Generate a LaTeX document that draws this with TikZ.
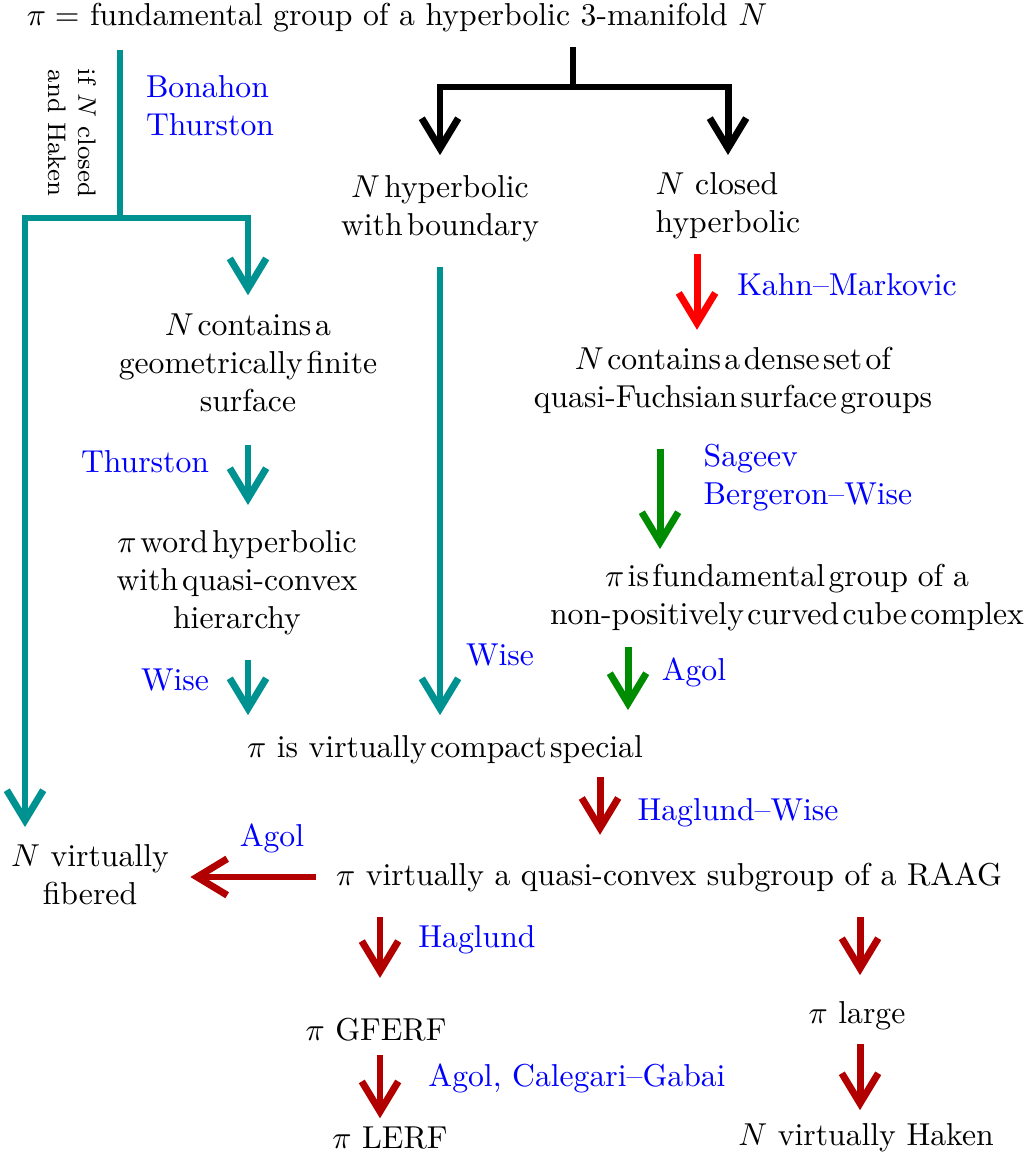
\documentclass[tikz,border=0pt]{standalone}
\usepackage{amsmath}
\usepackage{amssymb}
\usetikzlibrary{arrows.meta}
\definecolor{tealline}{RGB}{0,145,145}
\definecolor{darkred}{RGB}{178,0,0}
\definecolor{darkgreen}{RGB}{0,140,0}
\tikzset{arr/.style = {line width=2.2pt, -{Straight Barb[length=9.5pt,width=11.5pt,sharp]}}}
\tikzset{bar/.style = {line width=2.2pt}}
\tikzset{txt/.style = {align=center, inner sep=0pt}}
\tikzset{tight/.style = {execute at begin node={\spaceskip=#1\relax}}}
\tikzset{who/.style = {text=blue, align=left, inner sep=0pt}}

\begin{document}
\begin{tikzpicture}[x=0.3155pt, y=-0.3155pt]
      \useasboundingbox (0,0) rectangle (1026,1154);

      \node [txt] (title) at (397,18) {$\pi =$ fundamental group of a hyperbolic 3-manifold $N$};
      \node [txt, rotate=-90, font=\footnotesize] (ifhaken) at (72,133) {if $N$ closed\\and Haken};
      \node [who] (bonahon) at (210,106) {Bonahon\\Thurston};

      \node [txt, tight=1.3pt] (boundary) at (440,209) {$N$ hyperbolic\\with boundary};
      \node [txt, align=left] (closed) at (728,206) {$N$ closed\\hyperbolic};
      \node [who] (kahn) at (847,285) {Kahn--Markovic};
      \node [txt, tight=1.1pt] (dense) at (733,381) {$N$ contains a dense set of\\quasi-Fuchsian surface groups};
      \node [who] (sageev) at (808,478) {Sageev\\Bergeron--Wise};
      \node [txt, tight=1.1pt] (cube) at (787,598) {$\pi$ is fundamental group\hspace{2pt} of\hspace{2pt} a\\non-positively curved cube complex};
      \node [who] (agolA) at (694,672) {Agol};

      \node [txt, tight=1.2pt] (geofin) at (248,363) {$N$ contains a\\geometrically finite\\surface};
      \node [who] (thurston) at (145,462) {Thurston};
      \node [txt, tight=1.2pt] (wordhyp) at (237,583) {$\pi$ word hyperbolic\\with quasi-convex\\hierarchy};
      \node [who] (wiseA) at (175,680) {Wise};
      \node [who] (wiseB) at (500,655) {Wise};

      \node [txt] (special) at (445,750) {$\pi$ is virtually\hspace{-2.2pt} compact\hspace{-2.2pt} special};
      \node [who] (haglundwise) at (738,813) {Haglund--Wise};
      \node [txt] (raag) at (669,877) {$\pi$ virtually a quasi-convex subgroup of a RAAG};
      \node [who] (agolB) at (272,838) {Agol};
      \node [txt] (fibered) at (90,875) {$N$ virtually\\fibered};
      \node [who] (haglund) at (477,940) {Haglund};
      \node [txt] (gferf) at (376,1030) {$\pi$ GFERF};
      \node [txt] (large) at (857,1016) {$\pi$ large};
      \node [who] (agolcg) at (577,1078) {Agol, Calegari--Gabai};
      \node [txt] (lerf) at (390,1138) {$\pi$ LERF};
      \node [txt] (haken) at (866,1138) {$N$ virtually Haken};

      % branch points and arrow columns
      \coordinate (tsplit) at (120,218);
      \coordinate (bsplit) at (573,87);
      \coordinate (colL) at (25,0);
      \coordinate (colR) at (697,0);
      \coordinate (colG) at (660,0);
      \coordinate (colA) at (628,0);
      \coordinate (colH) at (600,0);
      \coordinate (colF) at (380,0);
      \coordinate (colK) at (860,0);

      \draw [bar, tealline, shorten <=5.4pt] (title.south -| tsplit) -- (tsplit);
      \draw [arr, tealline, shorten >=5.4pt] (tsplit) -| (fibered.north -| colL);
      \draw [arr, tealline, shorten >=5.7pt] (tsplit) -| (geofin.north);

      \draw [bar, shorten <=4.5pt] (title.south -| bsplit) -- (bsplit);
      \draw [arr, shorten >=6.3pt] (bsplit) -| (boundary.north);
      \draw [arr, shorten >=5.4pt] (bsplit) -| (closed.north);

      \draw [arr, tealline, shorten <=10.1pt, shorten >=7.9pt] (geofin.south) -- (geofin.south |- wordhyp.north);
      \draw [arr, tealline, shorten <=7.6pt, shorten >=6.3pt] (wordhyp.south -| geofin.south) -- (special.north -| geofin.south);
      \draw [arr, tealline, shorten <=7.6pt, shorten >=6.3pt] (boundary.south) -- (special.north -| boundary.south);

      \draw [arr, red, shorten <=4.4pt, shorten >=5.4pt] (closed.south -| colR) -- (dense.north -| colR);
      \draw [arr, darkgreen, shorten <=10.7pt, shorten >=4.7pt] (dense.south -| colG) -- (cube.north -| colG);
      \draw [arr, darkgreen, shorten <=4.7pt, shorten >=7.9pt] (cube.south -| colA) -- (special.north -| colA);

      \draw [arr, darkred, shorten <=3.8pt, shorten >=8.5pt] (special.south -| colH) -- (raag.north -| colH);
      \draw [arr, darkred, shorten <=6pt, shorten >=6.6pt] (raag.west) -- (fibered.east |- raag.west);
      \draw [arr, darkred, shorten <=7.9pt, shorten >=12.6pt] (raag.south -| colF) -- (gferf.north -| colF);
      \draw [arr, darkred, shorten <=7.9pt, shorten >=8.2pt] (raag.south -| colK) -- (large.north -| colK);
      \draw [arr, darkred, shorten <=4.1pt, shorten >=2.5pt] (gferf.south -| colF) -- (lerf.north -| colF);
      \draw [arr, darkred, shorten <=4.1pt, shorten >=4.1pt] (large.south -| colK) -- (haken.north -| colK);
    \end{tikzpicture}
\end{document}
